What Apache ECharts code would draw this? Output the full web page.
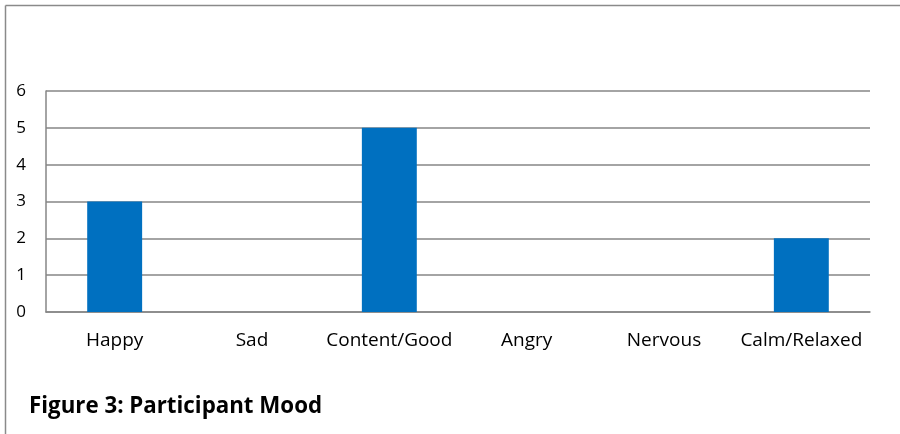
<!DOCTYPE html>
<html>
<head>
<meta charset="utf-8">
<script src="https://cdn.jsdelivr.net/npm/echarts@6/dist/echarts.min.js"></script>
<style>
  html, body { margin: 0; padding: 0; background: #ffffff; }
  #chart { width: 900px; height: 434px; }
</style>
</head>
<body>
<div id="chart"></div>
<script>
// Participant mood counts
const categories = ['Happy', 'Sad', 'Content/Good', 'Angry', 'Nervous', 'Calm/Relaxed'];
const moodCounts = [3, 0, 5, 0, 0, 2];
const yTicks = [0, 1, 2, 3, 4, 5, 6];
const figureTitle = 'Figure 3: Participant Mood';

const chart = echarts.init(document.getElementById('chart'), null, { renderer: 'canvas' });
const FONT = '"Open Sans", sans-serif';
const GRID_COLOR = '#868686';

chart.setOption({
  animation: false,
  backgroundColor: '#ffffff',
  title: {
    text: figureTitle,
    left: 24,
    top: 391,
    textStyle: { fontFamily: FONT, fontWeight: 'bold', fontSize: 22.3, color: '#000000' }
  },
  grid: { left: 46, right: 30, top: 91, bottom: 122, containLabel: false },
  xAxis: {
    type: 'category',
    data: categories,
    axisLine: { show: true, lineStyle: { color: GRID_COLOR, width: 1.5 } },
    axisTick: { show: false },
    axisLabel: { fontFamily: FONT, fontSize: 19, color: '#000000', margin: 19, interval: 0 }
  },
  yAxis: {
    type: 'value',
    min: yTicks[0],
    max: yTicks[yTicks.length - 1],
    interval: 1,
    axisLine: { show: true, lineStyle: { color: GRID_COLOR, width: 1.5 } },
    axisTick: { show: false },
    axisLabel: { fontFamily: FONT, fontSize: 17, color: '#000000', margin: 20 },
    splitLine: { show: true, lineStyle: { color: GRID_COLOR, width: 1.5 } }
  },
  series: [{
    type: 'bar',
    data: moodCounts,
    barWidth: '40%',
    itemStyle: { color: '#0070C0' }
  }],
  graphic: [
    // outer frame: top and left edges
    { type: 'line', shape: { x1: 5.5, y1: 5.5, x2: 900, y2: 5.5 }, style: { stroke: '#8a8a8a', lineWidth: 1.5 } },
    { type: 'line', shape: { x1: 5.5, y1: 5.5, x2: 5.5, y2: 434 }, style: { stroke: '#8a8a8a', lineWidth: 1.5 } }
  ]
});
</script>
</body>
</html>
